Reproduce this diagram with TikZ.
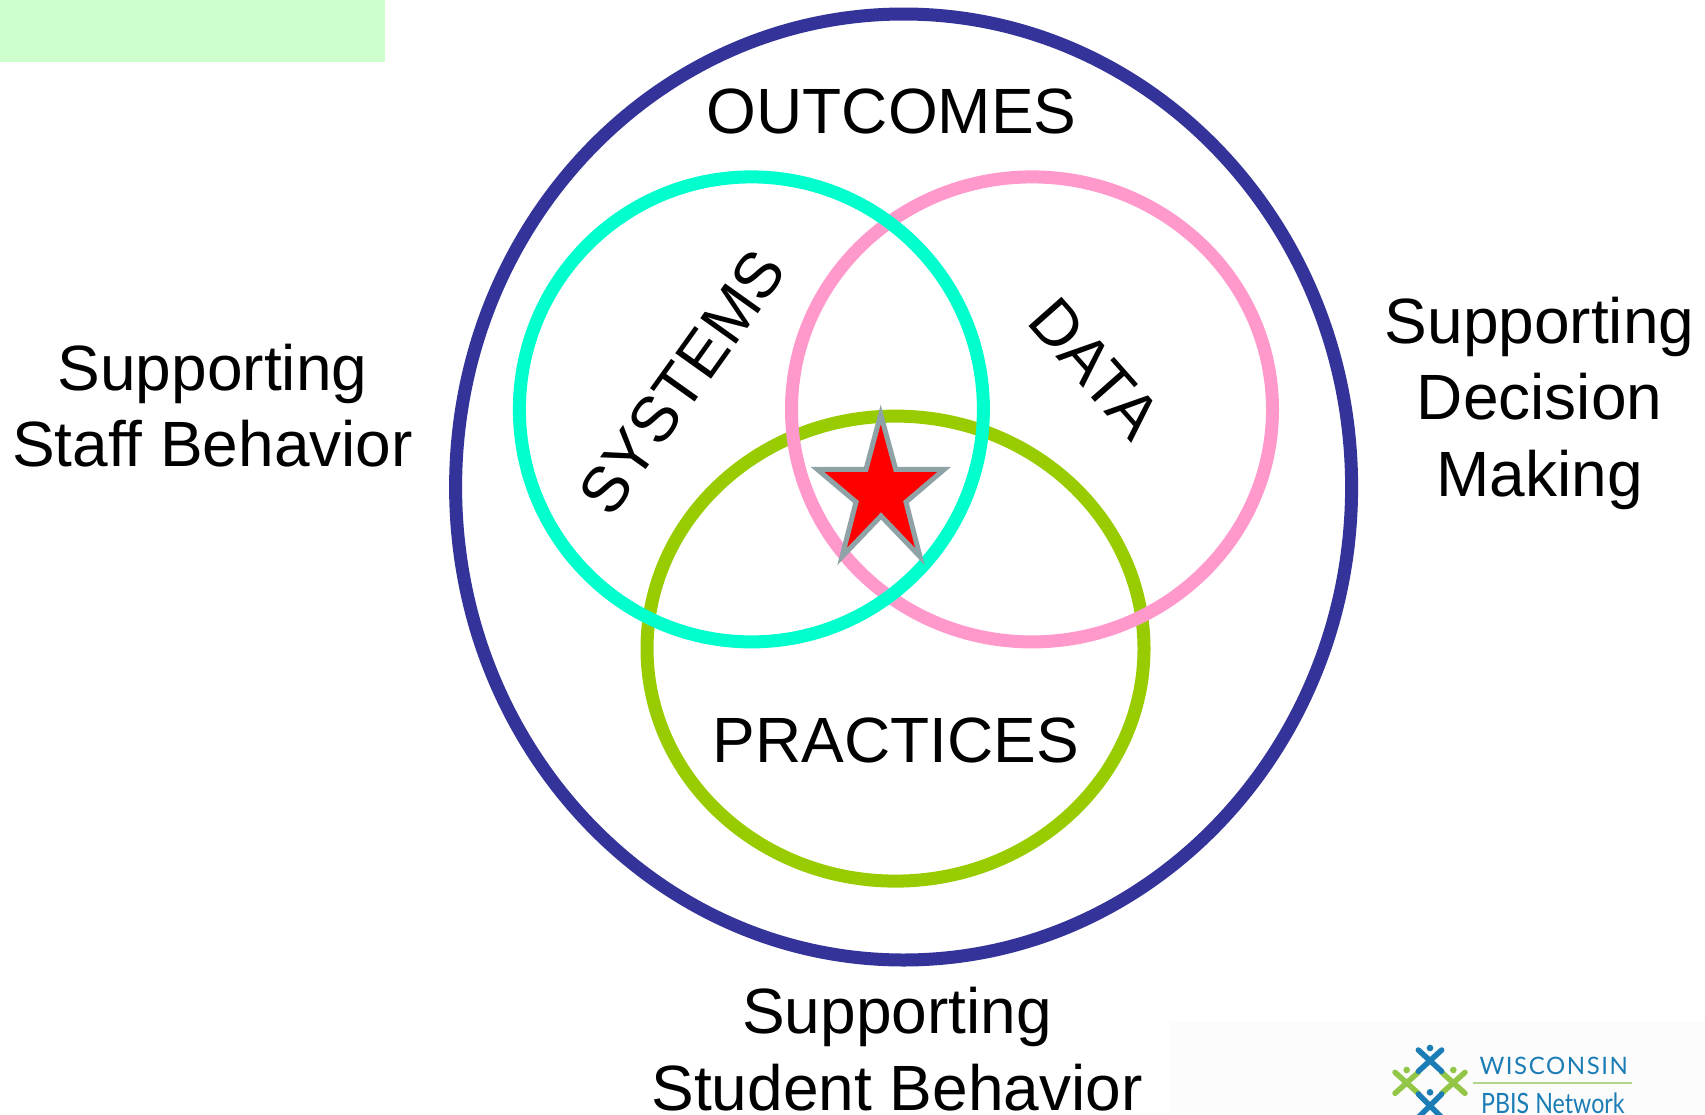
\documentclass[tikz,border=0pt]{standalone}
\usepackage{fontspec}
\setmainfont{Liberation Sans}
\newfontfamily\logofont{Lato}
\newfontfamily\logofontsp{Lato}[LetterSpace=6.5]
\definecolor{outerblue}{HTML}{333399}
\definecolor{teal1}{HTML}{00FFCC}
\definecolor{pink1}{HTML}{FF99CC}
\definecolor{green1}{HTML}{99CC00}
\definecolor{band}{HTML}{CCFFCC}
\definecolor{stargray}{HTML}{8FA3A6}
\definecolor{logoblue}{HTML}{1B7DB5}
\definecolor{logogreen}{HTML}{93C547}
\definecolor{logoline}{HTML}{B5D58A}
\tikzset{
  x=1pt,y=-1pt,
  ring/.style={line width=13pt,draw=#1},
  bigtext/.style={font=\fontsize{64}{76.6}\selectfont,align=center,text=black,inner sep=0pt},
  limbblue/.style={draw=logoblue,line width=5.5pt,line cap=round},
  limbgreen/.style={draw=logogreen,line width=5.5pt,line cap=round},
}
\begin{document}
\begin{tikzpicture}
\useasboundingbox (0,0) rectangle (1705,1114);
\clip (0,0) rectangle (1705,1114);
\fill[band] (0,0) rectangle (385,62);
\fill[black!1] (1170,1022) rectangle (1705,1114);
\draw[ring=outerblue] (903.6,487) ellipse [x radius=448, y radius=473];
\draw[ring=green1] (895.5,648.6) ellipse [x radius=248.5, y radius=232.5];
\draw[ring=pink1] (1032,409.4) ellipse [x radius=240.5, y radius=232.5];
\draw[ring=teal1] (751.4,409.4) ellipse [x radius=232, y radius=232.5];
\draw[fill=red,draw=stargray,line width=5pt,line join=miter,miter limit=12]
  (880.7,414.3) -- (895.7,469.3) -- (944.3,469.3) -- (906,502) -- (920,556.7)
  -- (881,516) -- (842,556.7) -- (856,502) -- (817.3,469.3) -- (866,469.3) -- cycle;
\node[bigtext] (outcomes) at (891.7,111) {OUTCOMES};
\node[bigtext] (practices) at (896,740) {PRACTICES};
\node[bigtext,rotate=54.5] (systems) at (682,382) {SYSTEMS};
\node[bigtext,rotate=-48.5] (dataT) at (1095,368) {DATA};
\node[bigtext] (staff) at (212.5,405.5) {Supporting\\Staff Behavior};
\node[bigtext] (decision) at (1539.5,403.4) {Supporting\\Decision\\Making};
\node[bigtext] (student) at (897,1049) {Supporting\\Student Behavior};
\begin{scope}[shift={(1360,1014)},x=0.3333pt,y=-0.3333pt]
  \fill[logoblue] (210,102) circle [radius=10];
  \fill[logoblue] (210,235) circle [radius=10];
  \fill[logogreen] (140,168) circle [radius=10];
  \fill[logogreen] (280,168) circle [radius=10];
  \draw[limbgreen] (105,175) -- (175,238) (105,238) -- (175,175);
  \draw[limbgreen] (245,238) -- (315,175) (245,175) -- (315,238);
  \draw[limbblue] (175,108) -- (245,172) (245,108) -- (175,172);
  \draw[limbblue] (175,240) -- (245,310) (245,240) -- (175,310);
  \draw[draw=logoline,line width=2pt] (340,207) -- (817,207);
  \node[anchor=base west,inner sep=0pt,text=logoblue,font=\logofontsp\fontsize{24}{24}\selectfont] (wisc) at (358,182) {WISCONSIN};
  \node[anchor=base west,inner sep=0pt,text=logoblue,font=\logofont\fontsize{28}{28}\selectfont,xscale=0.83,transform shape] (pbis) at (363,298) {PBIS Network};
\end{scope}
\end{tikzpicture}
\end{document}
